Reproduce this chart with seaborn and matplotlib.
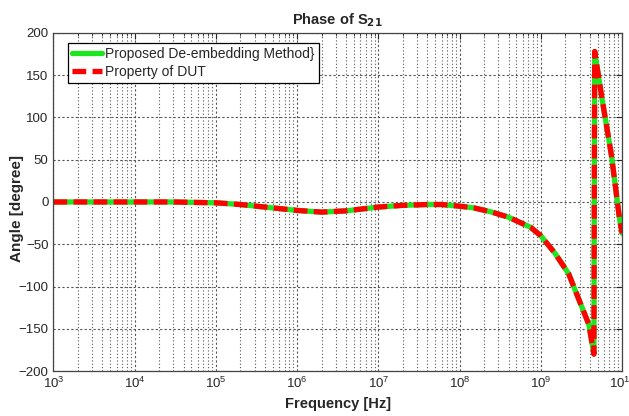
import matplotlib
matplotlib.use("Agg")
import matplotlib.pyplot as plt
import matplotlib.ticker as mticker
import seaborn as sns
import pandas as pd

# values
freq_hz = [1e3, 3e3, 1e4, 3e4, 1e5, 2e5, 5e5, 1e6, 2e6, 4e6, 1e7, 2e7, 4e7, 6e7,
           1e8, 1.5e8, 2.5e8, 4e8, 7.5e8, 1e9, 1.5e9, 2.2e9, 2.9e9, 3.9e9,
           4.5e9, 4.6e9, 5.6e9, 7.4e9, 9.3e9, 1e10]
phase_deg = [0, 0, 0, 0, -1, -3, -7, -10, -12, -10.5, -6, -4, -3, -3,
             -5, -7, -12, -18, -30, -40, -61, -85, -114, -145,
             -180, 178, 125, 55, -20, -37]
labels = ["Proposed De-embedding Method}", "Property of DUT"]

df = pd.DataFrame({"Frequency": freq_hz, "Angle": phase_deg})

sns.set_style("white")
plt.rcParams["font.family"] = ["Liberation Sans", "DejaVu Sans"]

fig = plt.figure(figsize=(6.29, 4.16), dpi=100)
ax = fig.add_axes([0.085, 0.108, 0.904, 0.813])

sns.lineplot(data=df, x="Frequency", y="Angle", ax=ax, color="#1ee61e",
             linewidth=3.8, label=labels[0], sort=False)
sns.lineplot(data=df, x="Frequency", y="Angle", ax=ax, color="#ff0000",
             linewidth=3.8, label=labels[1], sort=False)
ax.lines[1].set_dashes((2.6, 1.2))

ax.set_xscale("log")
ax.set_xlim(1e3, 1e10)
ax.set_ylim(-200, 200)
ax.set_yticks(range(-200, 201, 50))
ax.xaxis.set_major_locator(mticker.LogLocator(base=10, numticks=20))
ax.xaxis.set_minor_locator(mticker.LogLocator(base=10, subs=range(2, 10), numticks=20))
ax.xaxis.set_minor_formatter(mticker.NullFormatter())

ax.grid(True, which="major", linestyle=(0, (2, 2)), color="#555555", linewidth=0.8)
ax.grid(True, which="minor", axis="x", linestyle=(0, (1, 2)), color="#555555", linewidth=0.8)
ax.tick_params(which="both", direction="in", labelsize=9.5, top=True, right=True, length=4)
ax.tick_params(which="minor", length=2)
for s in ax.spines.values():
    s.set_color("#444444")
    s.set_linewidth(0.9)

ax.set_title("Phase of S$_{\\mathbf{21}}$", fontsize=10.5, fontweight="bold")
ax.set_xlabel("Frequency [Hz]", fontsize=10.5, fontweight="bold")
ax.set_ylabel("Angle [degree]", fontsize=11, fontweight="bold")
ax.yaxis.set_label_coords(-0.051, 0.482)

leg = ax.legend(loc="upper left", bbox_to_anchor=(0.025, 0.97), fontsize=10,
                frameon=True, fancybox=False, handlelength=2.2, borderpad=0.3,
                labelspacing=0.25, handletextpad=0.2, borderaxespad=0)
leg.get_frame().set_edgecolor("black")
leg.get_frame().set_linewidth(0.9)
leg.get_frame().set_alpha(1)

fig.savefig("out.png", dpi=100)
